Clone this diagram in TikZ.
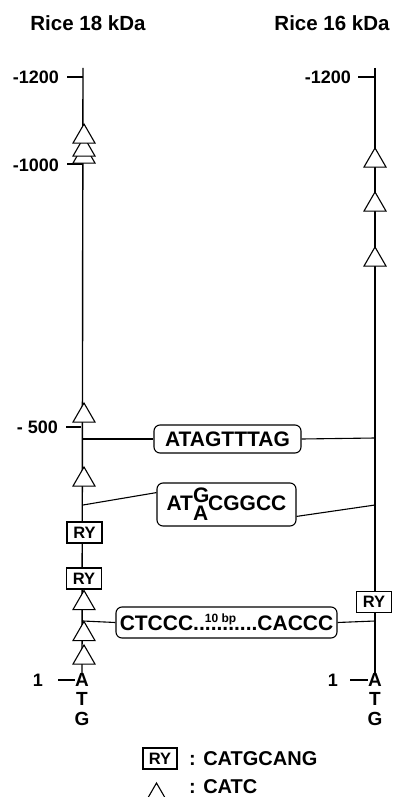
\documentclass[tikz,border=0pt]{standalone}
\usepackage{fontspec}
\setmainfont{Liberation Sans}
\usetikzlibrary{shapes.geometric,calc}
\begin{document}
\begin{tikzpicture}[x=1pt,y=-1pt,
  axisline/.style={line width=1.4pt},
  conn/.style={line width=1.1pt},
  cat/.style={draw, fill=white, line width=1.1pt, regular polygon, regular polygon sides=3, minimum size=25.4pt, inner sep=0pt},
  ry/.style={draw, fill=white, line width=1.1pt, minimum width=35pt, minimum height=21pt, inner sep=0pt, font=\fontsize{16.5}{16.5}\selectfont\bfseries},
  seq/.style={draw, fill=white, rounded corners=6pt, line width=1.1pt, inner sep=0pt, font=\fontsize{21}{21}\selectfont\bfseries},
  title/.style={inner sep=0pt, font=\fontsize{20.5}{20.5}\selectfont\bfseries},
  lab/.style={inner sep=0pt, anchor=east, font=\fontsize{18}{18}\selectfont\bfseries},
  base/.style={inner sep=0pt, font=\fontsize{19}{19}\selectfont\bfseries},
  leg/.style={inner sep=0pt, anchor=west, font=\fontsize{20}{20}\selectfont\bfseries}
]
\useasboundingbox (0,0) rectangle (394,797);

% titles
\node[title] (t1) at (88,23) {Rice 18 kDa};
\node[title] (t2) at (332,23) {Rice 16 kDa};

% ATG letters
\node[base] (AL) at (82,680) {A};
\node[base] (TL) at (82,699) {T};
\node[base] (GL) at (82,719) {G};
\node[base] (AR) at (375,680) {A};
\node[base] (TR) at (375,699) {T};
\node[base] (GR) at (375,719) {G};

% axes
\coordinate (topL) at (83,68);
\coordinate (topR) at (375,68);
\draw[axisline] (topL) -- (AL.north);
\draw[axisline] (topR) -- (AR.north);

% ticks and labels
\coordinate (k1a) at (67,77);   \coordinate (k1b) at (83,77);
\coordinate (k2a) at (67,164);  \coordinate (k2b) at (83,164);
\coordinate (k3a) at (66,427);  \coordinate (k3b) at (81,427);
\coordinate (k4a) at (358,77);  \coordinate (k4b) at (375,77);
\coordinate (k5a) at (58,680);
\coordinate (k6a) at (350,680);
\draw[conn] (k1a) -- (k1b);
\draw[conn] (k2a) -- (k2b);
\draw[conn] (k3a) -- (k3b);
\draw[conn] (k4a) -- (k4b);
\draw[conn] (k5a) -- (AL.west);
\draw[conn] (k6a) -- (AR.west);
\node[lab] (l1) at (59,77) {-1200};
\node[lab] (l2) at (59,165) {-1000};
\node[lab] (l3) at (58,427) {- 500};
\node[lab] (l4) at (351,77) {-1200};
\node[base,font=\fontsize{18}{18}\selectfont\bfseries] (l5) at (38,680) {1};
\node[base,font=\fontsize{18}{18}\selectfont\bfseries] (l6) at (333,680) {1};

% connector points on axes
\coordinate (L1) at (83,439);
\coordinate (R1) at (375,438);
\coordinate (L2) at (83,505);
\coordinate (R2) at (375,505);
\coordinate (L3) at (83,621);
\coordinate (R3) at (375,621);

% sequence boxes
\node[seq, minimum width=147pt, minimum height=28pt] (B1) at (227.5,439) {ATAGTTTAG};
\node[seq, minimum width=139pt, minimum height=43pt] (B2) at (226.5,504.5) {AT\rlap{\raisebox{8pt}{G}}\raisebox{-10pt}{A}CGGCC};
\node[seq, minimum width=221pt, minimum height=31pt] (B3) at (226.5,622.5) {CTCCC..\rlap{\raisebox{8pt}{\fontsize{12}{12}\selectfont 10 bp}}.........CACCC};

\draw[conn] (L1) -- (B1.west);
\draw[conn] (B1.east) -- (R1);
\draw[conn] (L2) -- ($(B2.north west)!0.23!(B2.south west)$);
\draw[conn] ($(B2.north east)!0.77!(B2.south east)$) -- (R2);
\draw[conn] (L3) -- (B3.west);
\draw[conn] (B3.east) -- (R3);

% CATC triangles, left
\node[cat] (c3) at (84,156.7) {};
\node[cat] (c2) at (84,149.7) {};
\node[cat] (c1) at (84,136.7) {};
\node[cat] (c4) at (84,415.7) {};
\node[cat] (c5) at (84,479.7) {};
\node[cat] (c6) at (84,603.2) {};
\node[cat] (c7) at (84,634.2) {};
\node[cat] (c8) at (84,657.7) {};
% right
\node[cat] (d1) at (375,160.7) {};
\node[cat] (d2) at (375,204.7) {};
\node[cat] (d3) at (375,259.7) {};

% RY boxes
\node[ry] (r1) at (84.5,532.5) {RY};
\node[ry] (r2) at (84,578.5) {RY};
\node[ry] (r3) at (374,602) {RY};

% legend
\node[ry, minimum width=34pt] (rl) at (160,758.5) {RY};
\node[leg] (tl1) at (189,759) {: CATGCANG};
\node[cat, minimum size=19.6pt] (cl) at (156.5,792.8) {};
\node[leg] (tl2) at (189,787) {: CATC};
\end{tikzpicture}
\end{document}
